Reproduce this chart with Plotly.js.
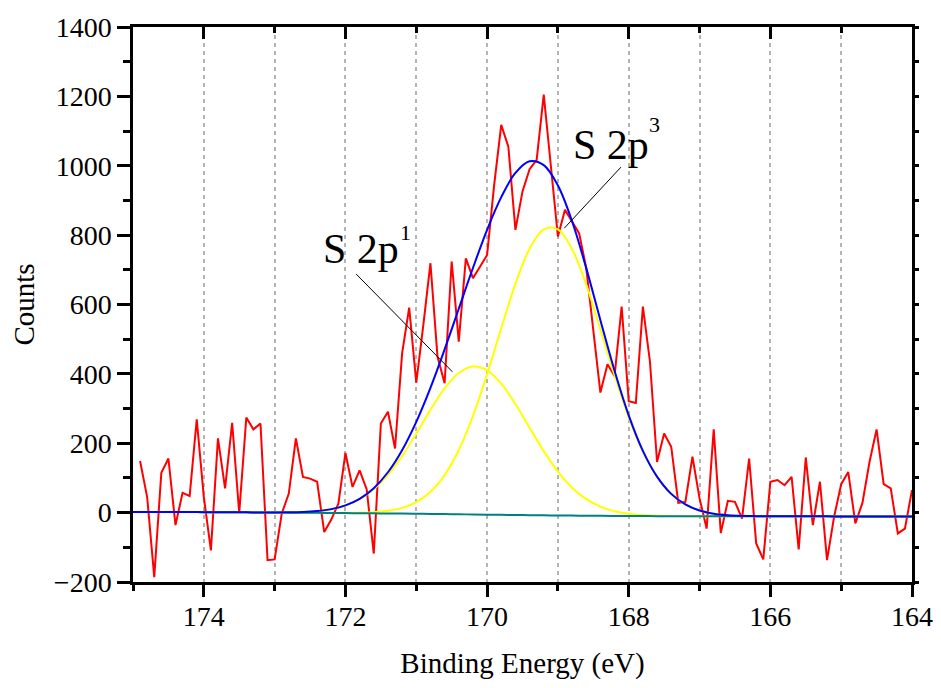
<!DOCTYPE html>
<html>
<head>
<meta charset="utf-8">
<script src="https://cdn.plot.ly/plotly-3.0.1.min.js"></script>
<style>
  html, body { margin: 0; padding: 0; background: #ffffff; }
  #chart { width: 941px; height: 688px; }
</style>
</head>
<body>
<div id="chart"></div>
<script>
// Measured spectrum (binding energy in eV, counts)
const energy = [174.9,174.8,174.7,174.6,174.5,174.4,174.3,174.2,174.1,174.0,
  173.9,173.8,173.7,173.6,173.5,173.4,173.3,173.2,173.1,173.0,
  172.9,172.8,172.7,172.6,172.5,172.4,172.3,172.2,172.1,172.0,
  171.9,171.8,171.7,171.6,171.5,171.4,171.3,171.2,171.1,171.0,
  170.9,170.8,170.7,170.6,170.5,170.4,170.3,170.2,170.1,170.0,
  169.9,169.8,169.7,169.6,169.5,169.4,169.3,169.2,169.1,169.0,
  168.9,168.8,168.7,168.6,168.5,168.4,168.3,168.2,168.1,168.0,
  167.9,167.8,167.7,167.6,167.5,167.4,167.3,167.2,167.1,167.0,
  166.9,166.8,166.7,166.6,166.5,166.4,166.3,166.2,166.1,166.0,
  165.9,165.8,165.7,165.6,165.5,165.4,165.3,165.2,165.1,165.0,
  164.9,164.8,164.7,164.6,164.5,164.4,164.3,164.2,164.1,164.0];
const counts = [149,45,-186,115,156,-36,57,48,269,45,
  -109,214,70,259,-1,274,240,257,-137,-135,
  -3,55,214,103,98,89,-56,-20,26,172,
  74,122,67,-118,257,291,185,459,591,375,
  541,719,449,373,724,493,733,676,709,743,
  945,1118,1055,815,926,990,1017,1205,1000,796,
  873,841,805,705,529,346,428,394,594,321,
  316,594,435,146,228,190,28,31,161,41,
  -46,240,-59,34,31,-17,156,-89,-135,89,
  94,79,103,-106,159,-36,89,-137,-12,82,
  117,-31,28,146,240,82,70,-60,-46,65];

// Fitted curves at 0.2 eV steps
const fitEnergy = [175.0,174.8,174.6,174.4,174.2,174.0,173.8,173.6,173.4,173.2,
  173.0,172.8,172.6,172.4,172.2,172.0,171.8,171.6,171.4,171.2,
  171.0,170.8,170.6,170.4,170.2,170.0,169.8,169.6,169.4,169.2,
  169.0,168.8,168.6,168.4,168.2,168.0,167.8,167.6,167.4,167.2,
  167.0,166.8,166.6,166.4,166.2,166.0,165.8,165.6,165.4,165.2,
  165.0,164.8,164.6,164.4,164.2,164.0];
const background = [2.0,2.0,1.9,1.8,1.6,1.4,1.2,1.0,0.8,0.5,
  0.2,-0.1,-0.4,-0.7,-1.0,-1.3,-1.6,-2.0,-2.4,-2.8,
  -3.3,-3.8,-4.3,-4.8,-5.3,-5.8,-6.3,-6.8,-7.3,-7.8,
  -8.2,-8.6,-9.0,-9.3,-9.6,-9.8,-10.0,-10.1,-10.2,-10.3,
  -10.4,-10.5,-10.5,-10.6,-10.6,-10.7,-10.7,-10.8,-10.8,-10.8,
  -10.9,-10.9,-10.9,-11.0,-11.0,-11.0];
const peak2p3 = [2.0,2.0,1.9,1.8,1.6,1.4,1.2,1.0,0.8,0.5,
  0.2,-0.1,-0.4,-0.7,-0.8,-0.8,-0.3,1.2,5.1,13.7,
  30.3,59.9,108.3,180.4,278.5,399.2,531.4,659.4,760.8,816.8,
  816.4,759.5,657.2,528.4,395.4,274.0,175.2,102.5,53.5,23.3,
  6.1,-3.0,-7.3,-9.3,-10.1,-10.5,-10.7,-10.8,-10.8,-10.8,
  -10.9,-10.9,-10.9,-11.0,-11.0,-11.0];
const peak2p1 = [2.0,2.0,1.9,1.8,1.6,1.4,1.2,1.0,0.8,0.6,
  0.6,0.8,1.8,4.4,9.9,20.5,38.6,67.4,108.9,163.5,
  228.2,296.2,357.9,402.6,421.4,410.4,371.8,313.1,244.8,177.2,
  118.3,71.9,38.7,17.1,4.0,-3.3,-7.1,-8.9,-9.7,-10.1,
  -10.4,-10.5,-10.5,-10.6,-10.6,-10.7,-10.7,-10.8,-10.8,-10.8,
  -10.9,-10.9,-10.9,-11.0,-11.0,-11.0];
const envelope = [2.0,2.0,1.9,1.8,1.6,1.4,1.2,1.0,0.8,0.6,
  0.6,0.8,1.8,4.5,10.1,21.0,39.9,70.6,116.4,180.0,
  261.8,359.9,470.5,587.8,705.2,815.4,909.5,979.3,1012.9,1001.8,
  942.9,840.0,704.9,554.8,409.0,280.5,178.1,103.7,54.0,23.5,
  6.1,-3.0,-7.3,-9.3,-10.1,-10.5,-10.7,-10.8,-10.8,-10.8,
  -10.9,-10.9,-10.9,-11.0,-11.0,-11.0];

const peakLabels = ['S 2p', 'S 2p'];
const peakSups = ['1', '3'];

const SERIF = 'Liberation Serif';

const traces = [
  {x: energy, y: counts, type: 'scatter', mode: 'lines',
   line: {color: '#ff0000', width: 2}, hoverinfo: 'skip'},
  {x: fitEnergy, y: peak2p1, type: 'scatter', mode: 'lines',
   line: {color: '#ffff00', width: 2, shape: 'spline'}, hoverinfo: 'skip'},
  {x: fitEnergy, y: peak2p3, type: 'scatter', mode: 'lines',
   line: {color: '#ffff00', width: 2, shape: 'spline'}, hoverinfo: 'skip'},
  {x: fitEnergy, y: background, type: 'scatter', mode: 'lines',
   line: {color: '#008080', width: 2, shape: 'spline'}, hoverinfo: 'skip'},
  {x: fitEnergy, y: envelope, type: 'scatter', mode: 'lines',
   line: {color: '#0000ff', width: 2, shape: 'spline'}, hoverinfo: 'skip'},
  {x: [], y: [], xaxis: 'x2', yaxis: 'y2', type: 'scatter', mode: 'lines', hoverinfo: 'skip'}
];

const gridStyle = {showgrid: true, gridcolor: '#b4b4b4', gridwidth: 1.5, griddash: '4px,4px'};

const layout = {
  width: 941, height: 688,
  margin: {l: 133, r: 29, t: 27, b: 106, pad: 0},
  paper_bgcolor: '#ffffff', plot_bgcolor: '#ffffff',
  showlegend: false,
  font: {family: SERIF, color: '#000000'},
  xaxis: Object.assign({
    range: [175, 164], autorange: false,
    showline: true, linecolor: '#000000', linewidth: 2.5,
    ticks: 'outside', ticklen: 12, tickwidth: 2.5, tickcolor: '#000000',
    tick0: 0, dtick: 2, ticklabelstandoff: -4,
    tickfont: {family: SERIF, size: 28, color: '#000000'},
    zeroline: false,
    minor: Object.assign({tick0: 0, dtick: 1, ticks: 'outside', ticklen: 6, tickwidth: 2.5, tickcolor: '#000000'}, gridStyle),
    title: {text: 'Binding Energy (eV)', font: {family: SERIF, size: 29, color: '#000000'}, standoff: 22}
  }, gridStyle),
  yaxis: {
    range: [-200, 1400], autorange: false,
    showline: true, linecolor: '#000000', linewidth: 2.5,
    ticks: 'outside', ticklen: 13, tickwidth: 2.5, tickcolor: '#000000',
    tick0: 0, dtick: 200,
    tickfont: {family: SERIF, size: 28, color: '#000000'},
    showgrid: false, zeroline: false,
    minor: {tick0: 0, dtick: 100, ticks: 'outside', ticklen: 7, tickwidth: 2.5, tickcolor: '#000000', showgrid: false},
    title: {text: 'Counts', font: {family: SERIF, size: 29, color: '#000000'}, standoff: 11}
  },
  xaxis2: {
    overlaying: 'x', side: 'top', anchor: 'y',
    range: [175, 164], autorange: false,
    showline: true, linecolor: '#000000', linewidth: 2.5,
    ticks: 'inside', ticklen: 12, tickwidth: 2.5, tickcolor: '#000000',
    tick0: 0, dtick: 2, showticklabels: false, showgrid: false, zeroline: false,
    minor: {tick0: 0, dtick: 1, ticks: 'inside', ticklen: 6, tickwidth: 2.5, tickcolor: '#000000', showgrid: false}
  },
  yaxis2: {
    overlaying: 'y', side: 'right', anchor: 'x',
    range: [-200, 1400], autorange: false,
    showline: true, linecolor: '#000000', linewidth: 2.5,
    ticks: 'outside', ticklen: 4, tickwidth: 2.5, tickcolor: '#000000',
    tick0: 0, dtick: 200, showticklabels: false, showgrid: false, zeroline: false,
    minor: {tick0: 0, dtick: 100, ticks: 'outside', ticklen: 4, tickwidth: 2.5, tickcolor: '#000000', showgrid: false}
  },
  annotations: [
    {xref: 'x', yref: 'y', x: 171.78, y: 761, text: peakLabels[0], showarrow: false,
     xanchor: 'center', yanchor: 'middle', font: {family: SERIF, size: 42, color: '#000000'}},
    {xref: 'x', yref: 'y', x: 171.15, y: 807, text: peakSups[0], showarrow: false,
     xanchor: 'center', yanchor: 'middle', font: {family: SERIF, size: 22, color: '#000000'}},
    {xref: 'x', yref: 'y', x: 168.25, y: 1060, text: peakLabels[1], showarrow: false,
     xanchor: 'center', yanchor: 'middle', font: {family: SERIF, size: 42, color: '#000000'}},
    {xref: 'x', yref: 'y', x: 167.64, y: 1120, text: peakSups[1], showarrow: false,
     xanchor: 'center', yanchor: 'middle', font: {family: SERIF, size: 22, color: '#000000'}}
  ],
  shapes: [
    {type: 'line', xref: 'x', yref: 'y', x0: 171.85, y0: 688, x1: 170.49, y1: 406,
     line: {color: '#000000', width: 1}},
    {type: 'line', xref: 'x', yref: 'y', x0: 168.11, y0: 996, x1: 168.91, y1: 820,
     line: {color: '#000000', width: 1}}
  ]
};

Plotly.newPlot('chart', traces, layout, {displayModeBar: false});
</script>
</body>
</html>
